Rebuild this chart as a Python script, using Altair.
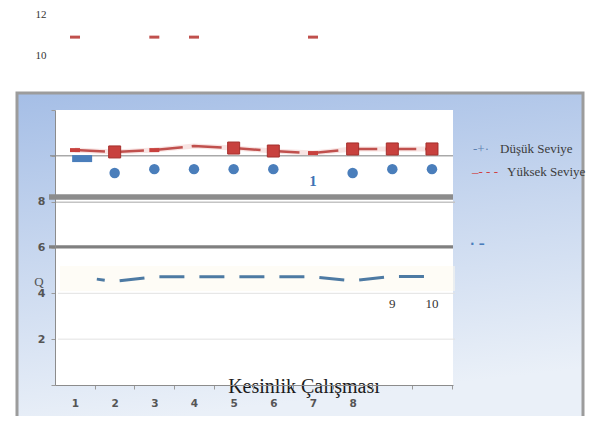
import altair as alt
import pandas as pd

# ---------------- data ----------------
runs = [1, 2, 3, 4, 5, 6, 7, 8, 9, 10]
yuksek = [10.25, 10.17, 10.25, 10.43, 10.34, 10.21, 10.12, 10.30, 10.30, 10.30]
yuksek_marker = ["flat", "square", "flat", "none", "square", "square", "flat", "square", "square", "square"]

dusuk_runs = [2, 3, 4, 5, 6, 8, 9, 10]
dusuk = [9.25, 9.42, 9.42, 9.42, 9.42, 9.25, 9.42, 9.42]
dusuk_first_run = [1.18]
dusuk_first = [9.88]

dash_runs = [1.55, 2, 3, 4, 5, 6, 7, 8, 9, 9.87]
dash_vals = [4.62, 4.52, 4.72, 4.72, 4.72, 4.72, 4.72, 4.55, 4.74, 4.74]

stray_runs = [1, 3, 4, 7]
stray_vals = [15.18, 15.18, 15.18, 15.18]

inline_labels = ["1", "9", "10"]
inline_runs = [7, 9, 10]
inline_vals = [8.9, 3.53, 3.53]

y_tick_values = [0, 2, 4, 6, 8, 10, 12]
legend_names = ["Düşük Seviye", "Yüksek Seviye"]
legend_syms = ["-+·", "–- - -"]
axis_title = "Kesinlik Çalışması"
top_labels = ["12", "10"]
top_label_vals = [16.15, 14.35]

# ---------------- geometry ----------------
W, H = 398, 275
XL, XR = 55, 453  # page x of plot area
YT = 110          # page y of plot top

xscale = alt.Scale(domain=[0.496, 10.53], nice=False, zero=False)
yscale = alt.Scale(domain=[0, 12], nice=False, zero=False)

xaxis = alt.Axis(values=runs, labelExpr="datum.value <= 8 ? datum.label : ''",
                 title=None, grid=False, tickOffset=19.8, labelOffset=-19.8, tickSize=4,
                 tickColor="#9a9a9a", domainColor="#8c8c8c", labelPadding=9,
                 labelFont="DejaVu Sans", labelFontWeight="bold", labelFontSize=10.5,
                 labelColor="#555555", zindex=1)
yaxis = alt.Axis(values=y_tick_values,
                 labelExpr="(datum.value >= 2 && datum.value <= 8) ? datum.label : ''",
                 title=None, grid=False, tickSize=4, tickColor="#9a9a9a",
                 domainColor="#8c8c8c", labelPadding=6,
                 labelFont="DejaVu Sans", labelFontWeight="bold", labelFontSize=11,
                 labelColor="#555555", zindex=1)

def X():
    return alt.X("x:Q", scale=xscale, axis=xaxis)

def Y():
    return alt.Y("y:Q", scale=yscale, axis=yaxis)

one = pd.DataFrame({"k": [0]})

def px(v):
    return alt.value(v - XL)

def py(v):
    return alt.value(v - YT)

# ---------------- layers ----------------
panel = alt.Chart(one).mark_rect(
    fill=alt.Gradient(gradient="linear",
                      stops=[alt.GradientStop(color="#a5bee6", offset=0),
                             alt.GradientStop(color="#c9d8ef", offset=0.5),
                             alt.GradientStop(color="#eaf0f8", offset=1)],
                      x1=0, x2=0.2, y1=0, y2=1),
    stroke="#9c9c9c", strokeWidth=3
).encode(x=px(17), x2=px(583), y=py(93), y2=py(421))

plotbg = alt.Chart(one).mark_rect(fill="white").encode(
    x=alt.value(0), x2=alt.value(W), y=alt.value(0), y2=alt.value(H))

band = alt.Chart(one).mark_rect(fill="#fdf9ee", opacity=0.5).encode(
    x=px(60), x2=px(455), y=py(266), y2=py(291))

# axis carrier layer (invisible points at the data positions)
red_df = pd.DataFrame({"x": runs, "y": yuksek, "m": yuksek_marker})
axes_layer = alt.Chart(red_df).mark_point(opacity=0).encode(x=X(), y=Y())

grid_df = pd.DataFrame({"y": [2, 4]})
grid = alt.Chart(grid_df).mark_rule(color="#e2e2e2", strokeWidth=1).encode(
    y=Y(), x=px(58), x2=px(455))

ten_df = pd.DataFrame({"y": [10]})
ten = alt.Chart(ten_df).mark_rule(color="#7f7f7f", strokeWidth=1).encode(
    y=Y(), x=px(50), x2=px(453))

thin8 = alt.Chart(pd.DataFrame({"y": [7.98]})).mark_rule(color="#c4c4c4", strokeWidth=1.5).encode(
    y=Y(), x=px(55), x2=px(455))
thick8 = alt.Chart(pd.DataFrame({"y": [8.2]})).mark_rule(color="#8c8c8c", strokeWidth=5.5).encode(
    y=Y(), x=px(49), x2=px(453))
rule6 = alt.Chart(pd.DataFrame({"y": [6.03]})).mark_rule(color="#808080", strokeWidth=3.2).encode(
    y=Y(), x=px(49), x2=px(453))

dash_df = pd.DataFrame({"x": dash_runs, "y": dash_vals})
dashed = alt.Chart(dash_df).mark_line(color="#4d7aa3", strokeWidth=3,
                                      strokeDash=[25, 15], strokeDashOffset=17).encode(
    x=X(), y=Y(), order="x:Q")

red_halo = alt.Chart(red_df).mark_line(color="#f0c4c2", strokeWidth=5, opacity=0.45).encode(
    x=X(), y=Y())
red_line = alt.Chart(red_df).mark_line(color="#c0504d", strokeWidth=2.5,
                                       strokeDash=[30, 9]).encode(x=X(), y=Y())
red_sq = alt.Chart(red_df).transform_filter("datum.m == 'square'").mark_point(
    shape="square", filled=True, size=144, color="#c8413e", stroke="#a5302d",
    strokeWidth=1, opacity=1).encode(x=X(), y=Y())
red_flat = alt.Chart(red_df).transform_filter("datum.m == 'flat'").mark_point(
    shape="M-1,-0.4H1V0.4H-1Z", filled=True, size=100, color="#c8413e", opacity=1).encode(
    x=X(), y=Y())

blue_df = pd.DataFrame({"x": dusuk_runs, "y": dusuk})
blue_dots = alt.Chart(blue_df).mark_point(shape="circle", filled=True, size=110,
                                          color="#4a7ebb", opacity=1).encode(x=X(), y=Y())
blue_first = alt.Chart(pd.DataFrame({"x": dusuk_first_run, "y": dusuk_first})).mark_point(
    shape="M-1,-0.35H1V0.35H-1Z", filled=True, size=400, color="#4a7ebb", opacity=1).encode(
    x=X(), y=Y())

stray_df = pd.DataFrame({"x": stray_runs, "y": stray_vals})
stray = alt.Chart(stray_df).mark_point(shape="M-1,-0.3H1V0.3H-1Z", filled=True, size=100,
                                       color="#c0504d", opacity=1).encode(x=X(), y=Y())

inl_df = pd.DataFrame({"x": inline_runs, "y": inline_vals, "t": inline_labels,
                       "c": ["blue", "dark", "dark"]})
inl_blue = alt.Chart(inl_df).transform_filter("datum.c == 'blue'").mark_text(
    font="Liberation Serif", fontSize=15, fontWeight="bold", color="#3f72b5").encode(
    x=X(), y=Y(), text="t:N")
inl_dark = alt.Chart(inl_df).transform_filter("datum.c == 'dark'").mark_text(
    font="Liberation Serif", fontSize=13, color="#333333").encode(
    x=X(), y=Y(), text="t:N")

top_df = pd.DataFrame({"y": top_label_vals, "t": top_labels})
top_txt = alt.Chart(top_df).mark_text(font="Liberation Serif", fontSize=11,
                                      color="#333333").encode(
    x=px(41), y=Y(), text="t:N")

q_txt = alt.Chart(one).mark_text(text="Q", font="Liberation Serif", fontSize=13,
                                 color="#555555").encode(x=px(39), y=py(282))

title_txt = alt.Chart(one).mark_text(text=axis_title, font="Liberation Serif", fontSize=20,
                                     color="#1a1a1a", baseline="alphabetic").encode(
    x=px(304), y=py(393))

leg_df = pd.DataFrame({"name": legend_names, "sym": legend_syms,
                       "tx": [500 - XL, 507 - XL], "sx": [473 - XL, 472 - XL],
                       "ty": [149 - YT, 172 - YT], "sc": ["#5b7fb0", "#d04040"]})
leg_text = alt.Chart(leg_df).mark_text(font="Liberation Serif", fontSize=13, color="#3c3c3c",
                                       align="left").encode(
    x=alt.X("tx:Q", scale=None), y=alt.Y("ty:Q", scale=None), text="name:N")
leg_sym = alt.Chart(leg_df).mark_text(font="Liberation Serif", fontSize=13,
                                      align="left").encode(
    x=alt.X("sx:Q", scale=None), y=alt.Y("ty:Q", scale=None), text="sym:N",
    color=alt.Color("sc:N", scale=None))

faint = alt.Chart(one).mark_text(text="·   –", font="DejaVu Sans", fontSize=12,
                                 fontWeight="bold", color="#4a7ebb", align="left").encode(
    x=px(470), y=py(244))

chart = alt.layer(
    panel, plotbg, band, axes_layer, grid, ten, thin8, thick8, rule6, dashed,
    red_halo, red_line, red_sq, red_flat, blue_dots, blue_first, stray,
    inl_blue, inl_dark, top_txt, q_txt, title_txt, leg_text, leg_sym, faint
).properties(
    width=W, height=H,
    padding={"left": 47, "top": 102, "right": 151, "bottom": 31},
    autosize=alt.AutoSizeParams(type="none"),
).resolve_axis(x="shared", y="shared").configure_view(stroke=None)

chart.save("out.html", embed_options={"renderer": "svg", "actions": False})
